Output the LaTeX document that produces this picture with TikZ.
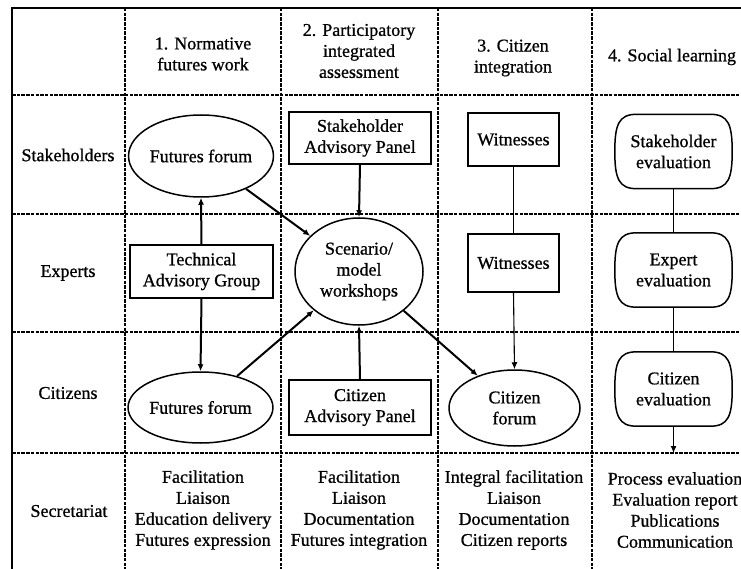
\documentclass[tikz,border=0pt]{standalone}
\usepackage{fontspec}
\setmainfont{Liberation Serif}[FakeBold=0.8]
\usetikzlibrary{arrows.meta,calc,shapes.geometric}
\begin{document}
\begin{tikzpicture}[x=1pt,y=-1pt,
  every node/.style={font=\fontsize{18}{21}\selectfont, align=center, inner sep=0pt},
  grid/.style={line width=1.4pt, dash pattern=on 3.5pt off 1.2pt},
  frame/.style={line width=2pt},
  rectbox/.style={draw, line width=1.5pt, rectangle},
  ellbox/.style={draw, line width=1.5pt, ellipse},
  evalbox/.style={rectangle, minimum width=117pt, minimum height=74pt},
  bigarrow/.style={line width=2pt, -{Latex[length=7pt,width=6pt]}},
  thinline/.style={line width=1.1pt},
  thinarrow/.style={line width=1.1pt, -{Latex[length=7pt,width=6pt]}},
]
\useasboundingbox (0,0) rectangle (741,569);

% grid
\draw[frame] (12,569) -- (12,8) -- (741,8);
\foreach \yy in {95,214,332,453} \draw[grid] (12,\yy) -- (741,\yy);
\foreach \xx in {125,281,438,592} \draw[grid] (\xx,8) -- (\xx,569);

% headers
\node (h1) at (203,54) {1. Normative\\futures work};
\node (h2) at (359,51) {2. Participatory\\integrated\\assessment};
\node (h3) at (513,58) {3. Citizen\\integration};
\node (h4) at (672,57) {4. Social learning};

% row labels
\node (r1) at (68,155) {Stakeholders};
\node (r2) at (68,273) {Experts};
\node (r3) at (68,393) {Citizens};
\node (r4) at (69,511) {Secretariat};

% column 1
\node[ellbox, minimum width=116pt, minimum height=82pt] (ff1) at (201,156) {Futures forum};
\node[rectbox, minimum width=143pt, minimum height=53pt] (tag) at (201.5,271.5) {Technical\\Advisory Group};
\node[ellbox, minimum width=117pt, minimum height=71pt] (ff2) at (200.5,407.5) {Futures forum};

% column 2
\node[rectbox, minimum width=142pt, minimum height=52pt] (sap) at (360,138) {Stakeholder\\Advisory Panel};
\node[ellbox, minimum width=128pt, minimum height=107pt] (sc) at (359,271.5) {Scenario/\\model\\workshops};
\node[rectbox, minimum width=142pt, minimum height=55pt] (cap) at (360,407.5) {Citizen\\Advisory Panel};

% column 3
\node[rectbox, minimum width=91pt, minimum height=53pt] (w1) at (513.5,139.5) {Witnesses};
\node[rectbox, minimum width=91pt, minimum height=58pt] (w2) at (513.5,263) {Witnesses};
\node[ellbox, minimum width=131pt, minimum height=76pt] (cf) at (514.5,408) {Citizen\\forum};

% column 4
\node[evalbox] (e1) at (673.5,151.5) {Stakeholder\\evaluation};
\node[evalbox] (e2) at (673.5,270) {Expert\\evaluation};
\node[evalbox] (e3) at (673.5,389) {Citizen\\evaluation};
\foreach \n in {e1,e2,e3}{
  \draw[line width=1.5pt]
   ($(\n.north west)+(22pt,0pt)$) -- ($(\n.north east)+(-22pt,0pt)$)
   .. controls ($(\n.north east)+(-4pt,0pt)$) and ($(\n.north east)+(0pt,-10pt)$) .. (\n.east)
   .. controls ($(\n.south east)+(0pt,10pt)$) and ($(\n.south east)+(-4pt,0pt)$) .. ($(\n.south east)+(-22pt,0pt)$)
   -- ($(\n.south west)+(22pt,0pt)$)
   .. controls ($(\n.south west)+(4pt,0pt)$) and ($(\n.south west)+(0pt,10pt)$) .. (\n.west)
   .. controls ($(\n.north west)+(0pt,-10pt)$) and ($(\n.north west)+(4pt,0pt)$) .. ($(\n.north west)+(22pt,0pt)$)
   -- cycle;
}

% secretariat
\node (s1) at (203,510) {Facilitation\\Liaison\\Education delivery\\Futures expression};
\node (s2) at (359,510) {Facilitation\\Liaison\\Documentation\\Futures integration};
\node (s3) at (514,510) {Integral facilitation\\Liaison\\Documentation\\Citizen reports};
\node (s4) at (675,510) {Process evaluation\\Evaluation report\\Publications\\Communication};

% connectors
\draw[bigarrow] (tag.north) -- (ff1.south);
\draw[bigarrow] (tag.south) -- (ff2.north);
\draw[bigarrow] (ff1) -- (sc);
\draw[bigarrow] (ff2) -- (sc);
\draw[bigarrow] (sap.south) -- (sc.north);
\draw[bigarrow] (cap.north) -- (sc.south);
\draw[bigarrow] (sc) -- (cf);
\draw[thinline] (w1.south) -- (w2.north);
\draw[thinarrow] (w2.south) -- (cf.north);
\draw[thinline] (e1.south) -- (e2.north);
\draw[thinline] (e2.south) -- (e3.north);
\coordinate (e3end) at (673.5,453);
\draw[thinarrow] (e3.south) -- (e3end);
\end{tikzpicture}
\end{document}
